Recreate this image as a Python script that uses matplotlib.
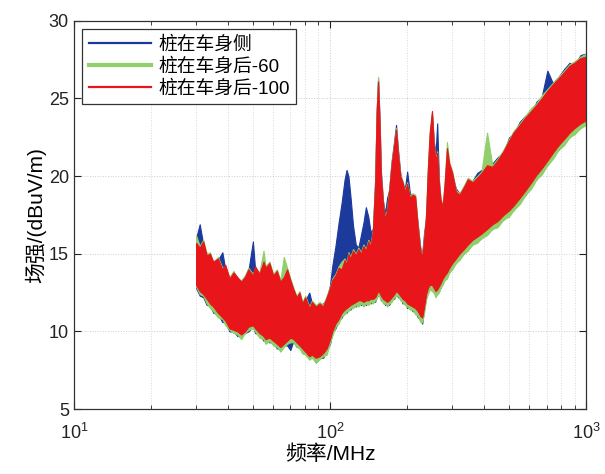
import matplotlib
matplotlib.use("Agg")
import matplotlib.pyplot as plt
import numpy as np
from matplotlib.lines import Line2D
from matplotlib.ticker import LogLocator, NullFormatter

plt.rcParams["font.family"] = ["Liberation Sans", "Noto Sans CJK SC"]
plt.rcParams["mathtext.fontset"] = "custom"
plt.rcParams["mathtext.rm"] = "Liberation Sans"
plt.rcParams["mathtext.default"] = "regular"

# frequency grid (MHz), shared by all three measurements
freq = [
    30, 31, 32, 33, 34, 35, 36.5, 38, 39, 40.5,
    42, 43.5, 45, 46.5, 48, 50, 51, 53, 55, 56,
    58, 60, 62, 64, 66, 68, 70, 72, 74, 76,
    78, 80, 83, 85, 88, 91, 94, 97, 100, 102,
    105, 108, 111, 114, 116, 118, 120, 123, 126, 129,
    132, 135, 138, 141, 144, 147, 150, 152, 154, 156,
    158, 161, 164, 167, 170, 174, 178, 181, 184, 188,
    192, 196, 200, 205, 210, 215, 220, 225, 229, 233,
    237, 241, 245, 250, 254, 258, 262, 266, 270, 275,
    280, 286, 292, 300, 310, 320, 333, 345, 360, 375,
    390, 410, 430, 450, 475, 500, 520, 550, 580, 610,
    640, 670, 705, 740, 780, 820, 860, 900, 950, 1000,
]

# upper / lower envelope of each noisy trace (dBuV/m)
side_hi = [
    16.0, 16.9, 15.6, 15.0, 14.8, 14.4, 14.6, 15.1, 14.0, 13.5,
    13.6, 13.3, 13.3, 13.4, 13.9, 15.8, 14.0, 13.6, 14.3, 14.0,
    14.2, 13.5, 13.7, 13.3, 13.4, 13.8, 13.2, 12.6, 12.1, 12.3,
    11.9, 12.0, 12.5, 11.8, 11.5, 11.7, 11.8, 12.1, 13.0, 14.2,
    15.5, 17.0, 18.3, 19.8, 20.4, 20.0, 18.8, 16.8, 15.6, 15.4,
    16.2, 17.0, 18.0, 17.4, 16.4, 16.6, 19.8, 24.2, 26.3, 23.8,
    20.3, 18.4, 17.6, 18.6, 19.1, 21.0, 22.3, 23.3, 21.8, 20.2,
    19.4, 19.2, 20.3, 18.9, 18.7, 18.5, 16.9, 15.4, 15.0, 16.4,
    17.2, 20.4, 22.6, 24.0, 22.3, 21.4, 23.4, 19.8, 18.4, 17.9,
    19.3, 21.6, 20.6, 20.0, 19.2, 18.9, 19.2, 19.6, 19.7, 20.2,
    20.4, 20.6, 20.8, 21.2, 21.5, 22.5, 22.7, 23.5, 23.9, 24.1,
    24.8, 25.1, 26.8, 26.0, 26.4, 26.9, 27.3, 27.2, 27.8, 27.9,
]
side_lo = [
    12.8, 12.3, 12.2, 11.7, 11.7, 11.2, 11.1, 10.6, 10.6, 10.0,
    10.0, 9.7, 9.7, 9.9, 10.0, 10.3, 9.9, 9.8, 9.4, 9.4,
    9.3, 9.3, 8.9, 8.9, 9.1, 9.1, 8.8, 9.4, 9.0, 9.0,
    8.6, 8.6, 8.2, 8.4, 8.0, 8.3, 8.3, 8.8, 9.2, 9.9,
    10.2, 10.7, 10.9, 11.3, 11.2, 11.5, 11.4, 11.7, 11.6, 11.9,
    11.7, 11.8, 11.7, 11.9, 11.8, 12.0, 11.9, 12.3, 12.3, 12.4,
    12.0, 12.0, 11.7, 11.8, 11.7, 12.1, 12.1, 12.5, 12.2, 12.2,
    11.8, 11.9, 11.5, 11.6, 11.3, 11.3, 10.9, 10.8, 10.5, 11.5,
    12.1, 12.7, 12.7, 12.9, 12.5, 12.5, 12.4, 12.8, 12.8, 13.3,
    13.3, 13.7, 13.8, 14.3, 14.4, 14.9, 15.0, 15.5, 15.6, 16.0,
    16.0, 16.5, 16.6, 17.0, 17.2, 17.7, 17.8, 18.5, 18.8, 19.5,
    19.8, 20.4, 20.7, 21.4, 21.7, 22.3, 22.5, 23.0, 23.1, 23.5,
]
back60_hi = [
    16.2, 15.5, 15.9, 15.0, 15.1, 14.4, 14.8, 14.1, 14.2, 13.5,
    13.9, 13.4, 13.3, 13.6, 14.1, 13.7, 14.1, 13.8, 15.2, 14.2,
    14.5, 13.7, 14.0, 13.3, 14.8, 14.1, 13.4, 12.8, 12.3, 12.6,
    11.9, 12.3, 11.6, 12.0, 11.7, 11.9, 11.7, 12.3, 12.9, 13.4,
    13.7, 14.2, 14.5, 14.7, 14.4, 15.1, 14.8, 15.3, 15.0, 15.4,
    15.1, 15.6, 15.3, 15.9, 15.6, 16.6, 19.6, 24.2, 26.4, 23.6,
    20.1, 18.3, 17.3, 17.9, 19.1, 20.9, 22.1, 23.1, 21.6, 20.1,
    19.7, 19.1, 19.6, 18.7, 18.9, 18.8, 16.8, 15.3, 14.9, 16.1,
    17.6, 20.6, 22.9, 24.1, 22.1, 21.1, 21.6, 19.6, 18.6, 18.1,
    19.6, 22.2, 20.9, 20.3, 19.1, 18.9, 19.4, 19.9, 19.7, 20.0,
    20.3, 22.8, 20.7, 21.1, 21.7, 22.4, 22.9, 23.4, 23.9, 24.4,
    24.7, 25.2, 25.6, 26.0, 26.4, 26.8, 27.2, 27.4, 27.7, 27.9,
]
back60_lo = [
    12.9, 12.4, 12.3, 11.8, 11.5, 11.3, 10.9, 10.8, 10.4, 10.1,
    9.9, 9.8, 9.5, 9.9, 10.1, 10.2, 10.0, 9.6, 9.5, 9.2,
    9.4, 9.1, 9.0, 8.7, 9.0, 9.2, 9.3, 9.3, 9.0, 8.9,
    8.6, 8.5, 8.2, 8.3, 8.0, 8.2, 8.4, 8.5, 9.3, 9.7,
    10.3, 10.5, 11.0, 11.1, 11.3, 11.3, 11.5, 11.5, 11.7, 11.6,
    11.8, 11.6, 11.8, 11.7, 11.9, 11.8, 12.0, 12.1, 12.4, 12.2,
    12.1, 11.8, 11.8, 11.6, 11.8, 11.9, 12.2, 12.3, 12.3, 12.0,
    11.9, 11.7, 11.6, 11.4, 11.4, 11.1, 11.0, 10.6, 10.6, 11.2,
    12.1, 12.4, 12.7, 12.6, 12.5, 12.2, 12.4, 12.5, 12.8, 13.0,
    13.3, 13.4, 13.8, 14.0, 14.4, 14.6, 15.0, 15.2, 15.6, 15.7,
    16.0, 16.2, 16.6, 16.7, 17.2, 17.4, 17.8, 18.2, 18.8, 19.2,
    19.8, 20.1, 20.7, 21.1, 21.7, 22.0, 22.5, 22.7, 23.1, 23.3,
]
back100_hi = [
    15.7, 15.4, 15.8, 14.9, 15.0, 14.5, 14.7, 14.0, 14.3, 13.4,
    13.8, 13.5, 13.2, 13.5, 14.0, 13.6, 14.2, 13.7, 14.5, 14.1,
    14.4, 13.6, 13.9, 13.2, 13.5, 14.0, 13.3, 12.7, 12.2, 12.5,
    11.8, 12.2, 11.5, 11.9, 11.6, 11.8, 11.6, 12.2, 12.8, 13.3,
    13.6, 14.1, 14.0, 14.6, 14.3, 15.0, 14.7, 15.2, 14.9, 15.3,
    15.0, 15.5, 15.2, 15.8, 15.5, 16.5, 19.5, 24.0, 26.1, 23.5,
    20.0, 18.2, 17.2, 17.8, 19.0, 20.8, 22.0, 23.0, 21.5, 20.0,
    19.6, 19.0, 19.5, 18.6, 18.8, 18.7, 16.7, 15.2, 14.8, 16.0,
    17.5, 20.5, 22.8, 24.2, 22.0, 21.0, 21.5, 19.5, 18.5, 18.0,
    19.5, 21.8, 20.8, 20.2, 19.0, 18.8, 19.3, 19.8, 19.6, 19.9,
    20.2, 20.7, 20.6, 21.0, 21.6, 22.3, 22.8, 23.3, 23.8, 24.2,
    24.6, 25.0, 25.5, 25.9, 26.3, 26.7, 27.1, 27.3, 27.6, 27.7,
]
back100_lo = [
    13.0, 12.6, 12.4, 12.1, 11.8, 11.6, 11.2, 10.9, 10.7, 10.2,
    10.1, 10.0, 9.8, 10.0, 10.3, 10.4, 10.2, 9.9, 9.7, 9.5,
    9.6, 9.4, 9.2, 9.0, 9.2, 9.4, 9.6, 9.5, 9.3, 9.1,
    8.9, 8.7, 8.4, 8.5, 8.3, 8.4, 8.6, 8.9, 9.5, 10.0,
    10.5, 10.8, 11.2, 11.4, 11.5, 11.6, 11.7, 11.8, 11.9, 12.0,
    12.0, 11.9, 12.0, 12.0, 12.1, 12.1, 12.2, 12.4, 12.6, 12.5,
    12.3, 12.1, 12.0, 11.9, 12.0, 12.2, 12.4, 12.6, 12.5, 12.3,
    12.1, 12.0, 11.8, 11.7, 11.6, 11.5, 11.3, 11.0, 10.9, 11.6,
    12.4, 12.8, 13.0, 13.0, 12.8, 12.6, 12.7, 12.9, 13.1, 13.4,
    13.6, 13.8, 14.1, 14.4, 14.7, 15.0, 15.3, 15.6, 15.9, 16.1,
    16.3, 16.6, 16.9, 17.1, 17.5, 17.8, 18.1, 18.6, 19.1, 19.6,
    20.1, 20.5, 21.0, 21.5, 22.0, 22.4, 22.8, 23.1, 23.4, 23.6,
]

labels = ["桩在车身侧", "桩在车身后-60", "桩在车身后-100"]
colors = ["#1c3a9c", "#8fd06a", "#e8151b"]

series = [(side_hi, side_lo), (back60_hi, back60_lo), (back100_hi, back100_lo)]
for hi, lo in series:
    assert len(hi) == len(freq) and len(lo) == len(freq)

fig = plt.figure(figsize=(6.05, 4.74), dpi=100)
ax = fig.add_axes([0.122, 0.137, 0.847, 0.819])

f = np.array(freq)
for (hi, lo), c in zip(series, colors):
    ax.fill_between(f, lo, hi, facecolor=c, edgecolor=c, linewidth=0.8)

ax.set_xscale("log")
ax.set_xlim(10, 1000)
ax.set_ylim(5, 30)
ax.set_yticks([5, 10, 15, 20, 25, 30])
ax.xaxis.set_minor_locator(LogLocator(base=10, subs=np.arange(2, 10)))
ax.xaxis.set_minor_formatter(NullFormatter())

ax.grid(True, which="major", linestyle=":", color="#cccccc", linewidth=0.7)
ax.grid(True, which="minor", axis="x", linestyle=":", color="#d8d8d8", linewidth=0.7)
ax.set_axisbelow(True)

ax.tick_params(which="both", direction="in", top=True, right=True, colors="#222222")
ax.tick_params(which="major", length=5, labelsize=13)
ax.tick_params(which="minor", length=3)
ax.tick_params(axis="x", which="major", pad=10)
for sp in ax.spines.values():
    sp.set_color("#333333")
    sp.set_linewidth(0.9)

ax.set_xlabel("频率/MHz", fontsize=15, labelpad=1)
ax.set_ylabel("场强/(dBuV/m)", fontsize=15, labelpad=2)

handles = [
    Line2D([], [], color=colors[0], linewidth=1.6),
    Line2D([], [], color=colors[1], linewidth=3.0),
    Line2D([], [], color=colors[2], linewidth=1.6),
]
leg = ax.legend(handles, labels, loc="upper left", fontsize=13.5, frameon=True,
                fancybox=False, framealpha=1, edgecolor="#333333",
                handlelength=3.3, handletextpad=0.4, borderaxespad=0.45,
                labelspacing=0.25, borderpad=0.35)
leg.get_frame().set_linewidth(0.9)

fig.savefig("out.png", dpi=100)
